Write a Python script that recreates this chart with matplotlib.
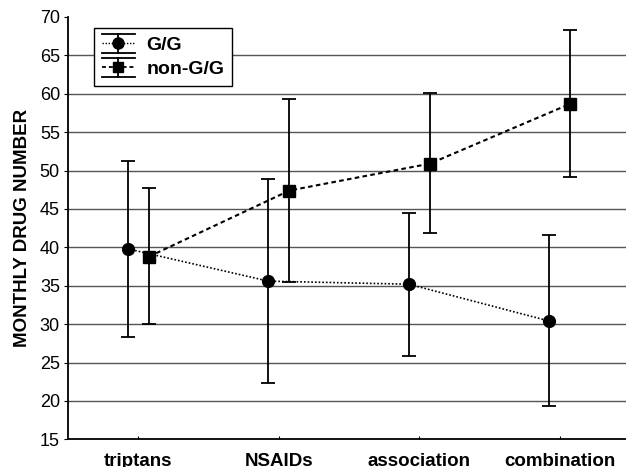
import numpy as np
import matplotlib
matplotlib.use('Agg')
import matplotlib.pyplot as plt
from matplotlib.lines import Line2D
from matplotlib.legend_handler import HandlerBase

plt.rcParams['font.family'] = ['Liberation Sans', 'DejaVu Sans']

categories = ['triptans', 'NSAIDs', 'association', 'combination']

# G/G group: mean, upper and lower whisker ends
gg_mean = [39.8, 35.6, 35.2, 30.4]
gg_upper = [51.3, 48.9, 44.5, 41.6]
gg_lower = [28.3, 22.3, 25.9, 19.3]

# non-G/G group
ngg_mean = [38.8, 47.4, 50.9, 58.7]
ngg_upper = [47.7, 59.3, 60.1, 68.3]
ngg_lower = [30.0, 35.5, 41.9, 49.1]

yticks = [15, 20, 25, 30, 35, 40, 45, 50, 55, 60, 65, 70]


class ErrHandler(HandlerBase):
    # legend key like the reference: wide caps, vertical bar, line + marker
    def __init__(self, ls, lw, marker, ms):
        super().__init__()
        self.ls, self.lw, self.marker, self.ms = ls, lw, marker, ms

    def create_artists(self, legend, orig_handle, xdescent, ydescent,
                       width, height, fontsize, trans):
        x0 = -xdescent
        x1 = x0 + width
        xm = (x0 + x1) / 2
        y0 = -ydescent - 1.5
        y1 = y0 + height + 3
        ym = -ydescent + height / 2
        arts = [
            Line2D([x0, x1], [ym, ym], color='black', linestyle=self.ls, linewidth=self.lw),
            Line2D([x0, x1], [y0, y0], color='black', linewidth=1.3),
            Line2D([x0, x1], [y1, y1], color='black', linewidth=1.3),
            Line2D([xm, xm], [y0, y1], color='black', linewidth=1.3),
            Line2D([xm], [ym], color='black', marker=self.marker, markersize=self.ms,
                   linestyle='none'),
        ]
        for a in arts:
            a.set_transform(trans)
        return arts


x = np.arange(len(categories))
shift = 0.075

fig = plt.figure(figsize=(6.26, 4.67), dpi=100)
ax = fig.add_axes([0.109, 0.0593, 0.8975, 0.9043])

gg_err = [np.array(gg_mean) - np.array(gg_lower), np.array(gg_upper) - np.array(gg_mean)]
ngg_err = [np.array(ngg_mean) - np.array(ngg_lower), np.array(ngg_upper) - np.array(ngg_mean)]

gg_ls = (0, (1, 1.2))
ngg_ls = (0, (2.2, 1.6))

h1 = ax.errorbar(x - shift, gg_mean, yerr=gg_err, color='black', linestyle=gg_ls,
                 linewidth=1.2, marker='o', markersize=8.5, capsize=5.3, elinewidth=1.3,
                 capthick=1.3, label='G/G', zorder=3)
h2 = ax.errorbar(x + shift, ngg_mean, yerr=ngg_err, color='black', linestyle=ngg_ls,
                 linewidth=1.5, marker='s', markersize=8, capsize=5.3, elinewidth=1.3,
                 capthick=1.3, label='non-G/G', zorder=3)

ax.set_xlim(-0.5, 3.5)
ax.set_ylim(15, 70)
ax.set_yticks(yticks)
ax.set_xticks(x)
ax.set_xticklabels(categories, fontsize=13.5, fontweight='bold')
ax.tick_params(axis='y', labelsize=13, direction='out', length=3, pad=3)
ax.tick_params(axis='x', direction='in', length=2, pad=10)

for yv in yticks[1:-1]:
    ax.axhline(yv, color='#555555', linewidth=1.0, zorder=1)

ax.spines['top'].set_visible(False)
ax.spines['right'].set_visible(False)
ax.spines['left'].set_linewidth(1.3)
ax.spines['bottom'].set_linewidth(1.3)

ax.set_ylabel('MONTHLY DRUG NUMBER', fontsize=13.5, fontweight='bold', labelpad=6)

leg = ax.legend([h1, h2], ['G/G', 'non-G/G'], loc='upper left',
                bbox_to_anchor=(0.046, 0.974), fancybox=False,
                framealpha=1, edgecolor='black', prop={'weight': 'bold', 'size': 14},
                handlelength=1.7, handleheight=0.8, borderpad=0.4, labelspacing=0.3,
                handletextpad=0.6, borderaxespad=0,
                handler_map={h1: ErrHandler(gg_ls, 1.0, 'o', 8),
                             h2: ErrHandler(ngg_ls, 1.3, 's', 7.5)})
leg.get_frame().set_linewidth(1.0)

fig.savefig('out.png', dpi=100)
